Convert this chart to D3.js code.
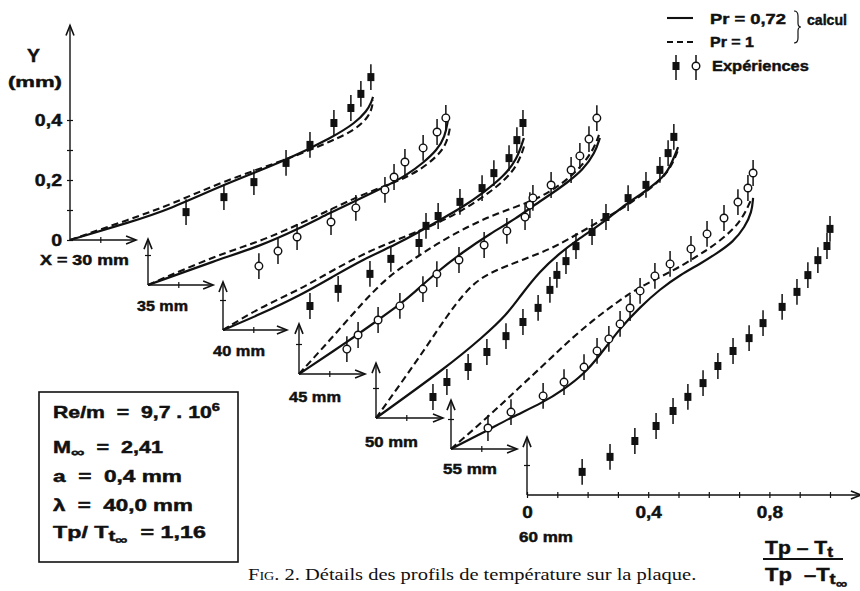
<!DOCTYPE html>
<html><head><meta charset="utf-8">
<script src="https://cdn.jsdelivr.net/npm/d3@7"></script>
<style>
body{margin:0;background:#fff}
svg{display:block}
text{font-family:"Liberation Sans",Arial,sans-serif;font-weight:bold;fill:#111}
.heavy{stroke:#111;stroke-width:0.45px}
</style>
</head><body>
<svg id="c" width="860" height="591"></svg>
<script>
// ---------------- DATA ----------------
const S = "\u00a0";
const stations = ["X"+S+"="+S+"30"+S+"mm","35"+S+"mm","40"+S+"mm","45"+S+"mm","50"+S+"mm","55"+S+"mm","60"+S+"mm"];
const markerKind = ["square","circle","square","circle","square","circle","square"];
// experimental points : [ (Tp-Tt)/(Tp-Tt∞) , Y (mm) ]
const exp30 = [[0.383,0.093],[0.508,0.143],[0.607,0.193],[0.713,0.257],[0.792,0.317],[0.871,0.39],[0.927,0.44],[0.96,0.487],[0.993,0.543]];
const exp35 = [[0.366,0.063],[0.429,0.113],[0.492,0.16],[0.604,0.21],[0.686,0.257],[0.782,0.317],[0.812,0.36],[0.848,0.41],[0.908,0.457],[0.954,0.51],[0.983,0.557]];
const exp40 = [[0.287,0.08],[0.38,0.137],[0.485,0.187],[0.554,0.237],[0.647,0.29],[0.67,0.347],[0.71,0.38],[0.782,0.427],[0.855,0.473],[0.894,0.523],[0.944,0.573],[0.97,0.633],[0.99,0.69]];
const exp45 = [[0.158,0.083],[0.195,0.13],[0.261,0.18],[0.333,0.227],[0.409,0.283],[0.455,0.333],[0.528,0.38],[0.611,0.43],[0.686,0.477],[0.746,0.523],[0.762,0.563],[0.772,0.587],[0.832,0.63],[0.898,0.68],[0.927,0.727],[0.957,0.783],[0.983,0.853]];
const exp50 = [[0.188,0.07],[0.234,0.12],[0.304,0.17],[0.366,0.22],[0.429,0.273],[0.485,0.32],[0.535,0.367],[0.574,0.427],[0.597,0.477],[0.627,0.523],[0.66,0.573],[0.713,0.62],[0.759,0.67],[0.832,0.733],[0.891,0.777],[0.937,0.827],[0.964,0.883],[0.983,0.937]];
const exp55 = [[0.122,0.07],[0.198,0.123],[0.304,0.177],[0.373,0.223],[0.439,0.273],[0.482,0.327],[0.521,0.367],[0.558,0.417],[0.591,0.47],[0.624,0.527],[0.673,0.577],[0.723,0.617],[0.792,0.667],[0.845,0.717],[0.901,0.77],[0.947,0.823],[0.98,0.87],[0.997,0.92]];
const exp60 = [[0.182,0.077],[0.274,0.127],[0.356,0.18],[0.426,0.23],[0.482,0.28],[0.531,0.327],[0.581,0.373],[0.63,0.43],[0.68,0.48],[0.733,0.523],[0.779,0.573],[0.842,0.627],[0.891,0.677],[0.927,0.733],[0.96,0.783],[0.99,0.83],[1.0,0.887]];
// calculated profiles, Pr = 0.72 (solid)
const calc072_30 = [[0,0],[0.2,0.06],[0.33,0.103],[0.508,0.185],[0.713,0.265],[0.871,0.345],[0.941,0.39],[0.98,0.43],[0.995,0.46],[1.0,0.477]];
const calc072_35 = [[0,0],[0.228,0.083],[0.37,0.13],[0.492,0.185],[0.6,0.24],[0.69,0.283],[0.782,0.327],[0.855,0.367],[0.908,0.407],[0.954,0.45],[0.98,0.493],[0.99,0.55]];
const calc072_40 = [[0,0],[0.122,0.052],[0.254,0.115],[0.363,0.178],[0.462,0.235],[0.574,0.287],[0.64,0.323],[0.716,0.367],[0.792,0.41],[0.858,0.457],[0.924,0.51],[0.97,0.567],[0.993,0.64]];
const calc072_45 = [[0,0],[0.168,0.113],[0.261,0.18],[0.333,0.232],[0.376,0.268],[0.455,0.34],[0.541,0.407],[0.63,0.467],[0.719,0.52],[0.772,0.56],[0.828,0.597],[0.884,0.637],[0.937,0.68],[0.977,0.737],[0.993,0.787]];
const calc072_50 = [[0,0],[0.234,0.17],[0.353,0.27],[0.432,0.345],[0.475,0.405],[0.541,0.49],[0.607,0.55],[0.663,0.593],[0.729,0.637],[0.772,0.67],[0.828,0.715],[0.881,0.75],[0.927,0.785],[0.96,0.817],[0.98,0.86],[0.997,0.903]];
const calc072_55 = [[0,0],[0.122,0.063],[0.198,0.105],[0.304,0.155],[0.37,0.197],[0.439,0.25],[0.492,0.313],[0.558,0.403],[0.624,0.473],[0.69,0.533],[0.756,0.58],[0.822,0.617],[0.878,0.653],[0.931,0.69],[0.97,0.74],[0.993,0.79],[0.997,0.837]];
// calculated profiles, Pr = 1 (dashed)
const calc1_30 = [[0,0],[0.2,0.07],[0.33,0.117],[0.508,0.197],[0.713,0.267],[0.871,0.333],[0.94,0.367],[0.983,0.407],[0.997,0.44],[1.0,0.467]];
const calc1_35 = [[0,0],[0.228,0.1],[0.37,0.145],[0.492,0.2],[0.6,0.25],[0.71,0.303],[0.822,0.345],[0.888,0.377],[0.954,0.427],[0.987,0.473],[0.997,0.527]];
const calc1_40 = [[0,0],[0.122,0.075],[0.254,0.135],[0.363,0.2],[0.495,0.27],[0.617,0.317],[0.716,0.36],[0.792,0.4],[0.858,0.443],[0.924,0.493],[0.974,0.55],[0.997,0.623]];
const calc1_45 = [[0,0],[0.102,0.113],[0.218,0.247],[0.30,0.33],[0.389,0.39],[0.465,0.44],[0.564,0.495],[0.653,0.535],[0.762,0.573],[0.828,0.607],[0.884,0.647],[0.937,0.697],[0.974,0.753],[0.99,0.797]];
const calc1_50 = [[0,0],[0.089,0.125],[0.168,0.24],[0.234,0.34],[0.287,0.41],[0.33,0.455],[0.38,0.485],[0.432,0.507],[0.508,0.537],[0.574,0.563],[0.63,0.593],[0.706,0.637],[0.762,0.67],[0.828,0.707],[0.881,0.747],[0.927,0.783],[0.97,0.827],[0.997,0.893]];
const calc1_55 = [[0,0],[0.12,0.105],[0.22,0.2],[0.327,0.3],[0.383,0.355],[0.469,0.43],[0.558,0.497],[0.624,0.54],[0.69,0.573],[0.766,0.613],[0.822,0.65],[0.855,0.67],[0.911,0.713],[0.954,0.757],[0.98,0.807],[0.993,0.837]];
// axis ticks
const mainYTicks = [0,0.1,0.2,0.3,0.4];
const mainYLabels = [0,0.2,0.4];
const mainXTicks = [0,0.1,0.2,0.3,0.4,0.5,0.6,0.7,0.8,0.9,1.0];
const mainXLabels = [0,0.4,0.8];
const boxLines = ["Re/m = 9,7 . 10^6","M∞ = 2,41","a = 0,4 mm","λ = 40,0 mm","Tp/Tt∞ = 1,16"];

const expData = [exp30,exp35,exp40,exp45,exp50,exp55,exp60];
const calcSolid = [calc072_30,calc072_35,calc072_40,calc072_45,calc072_50,calc072_55,null];
const calcDash = [calc1_30,calc1_35,calc1_40,calc1_45,calc1_50,calc1_55,null];

// ---------------- LAYOUT ----------------
const origins = [[70,240],[148,285],[223,330],[299,374],[376,418],[451,449],[527,495]];
const PX_T = 303, PX_MM = 300;
const vLen = [0.715,0.153,0.16,0.167,0.183,0.163,0.193];
const hLen = [0.218,0.215,0.211,0.218,0.221,0.218,1.102];
const labelPos = [[40,265,89],[137,311,51],[213,356,52],[289,402,52],[365,447,53],[443,474,54],[519,542,54]];

const svg = d3.select("#c");
const ink = "#111";
const fmt = d3.formatLocale({decimal:",",thousands:" ",grouping:[3],currency:["",""]}).format(".1f");

// stretch text horizontally to a target width (the original uses an extended bold face)
function fit(t,w){
  const x0=+t.attr("x")||0, y0=+t.attr("y")||0;
  t.attr("x",0).attr("y",0);
  const len=t.node().getComputedTextLength();
  t.attr("transform",`translate(${x0},${y0}) scale(${w/len},1)`);
  return t;
}
function arrowUp(g,x,y){g.append("path").attr("d",`M${x-4},${y+10}L${x},${y}L${x+4},${y+10}`).attr("fill","none").attr("stroke",ink).attr("stroke-width",1.6);}
function arrowRight(g,x,y){g.append("path").attr("d",`M${x-10},${y-4}L${x},${y}L${x-10},${y+4}`).attr("fill","none").attr("stroke",ink).attr("stroke-width",1.6);}

const line = d3.line().curve(d3.curveBasis);

origins.forEach((o,i)=>{
  const x = d3.scaleLinear().domain([0,1]).range([o[0],o[0]+PX_T]);
  const y = d3.scaleLinear().domain([0,1]).range([o[1],o[1]-PX_MM]);
  const g = svg.append("g");
  const yAx = d3.axisLeft(y).tickSize(3).tickPadding(5);
  const xAx = d3.axisBottom(x).tickSize(3).tickPadding(8);
  if(i===0){ yAx.tickValues(mainYTicks).tickFormat(d=>mainYLabels.includes(d)?(d===0?"0":fmt(d)):""); }
  else { yAx.tickValues([0.1]).tickFormat(""); }
  if(i===6){ xAx.tickValues(mainXTicks).tickFormat(d=>mainXLabels.includes(d)?(d===0?"0":fmt(d)):""); }
  else { xAx.tickValues([0.1]).tickFormat(""); }
  const gy = g.append("g").attr("transform",`translate(${o[0]},0)`).call(yAx);
  const gx = g.append("g").attr("transform",`translate(0,${o[1]})`).call(xAx);
  [gy,gx].forEach(a=>{a.select(".domain").remove(); a.selectAll("line").attr("stroke",ink).attr("stroke-width",1.2);
    a.selectAll("text").attr("font-size",17).attr("font-family","Liberation Sans, Arial, sans-serif").attr("font-weight","bold").attr("fill",ink).attr("class","heavy");});
  gy.selectAll(".tick line").attr("x1",3);
  gx.selectAll(".tick line").attr("y1",-3);
  gy.selectAll("text").attr("x",-8/1.15).attr("transform","scale(1.15,1)");
  gx.selectAll("text").attr("transform","scale(1.12,1)");
  g.append("line").attr("x1",x(0)).attr("x2",x(0)).attr("y1",y(0)).attr("y2",y(vLen[i])).attr("stroke",ink).attr("stroke-width",1.4);
  g.append("line").attr("x1",x(0)).attr("x2",x(hLen[i])).attr("y1",y(0)).attr("y2",y(0)).attr("stroke",ink).attr("stroke-width",1.4);
  arrowUp(g,x(0),y(vLen[i]));
  arrowRight(g,x(hLen[i]),y(0));
  const lp = labelPos[i];
  fit(g.append("text").attr("class","heavy").attr("x",lp[0]).attr("y",lp[1]).attr("font-size",14).text(stations[i]),lp[2]);
  if(calcDash[i]) g.append("path").attr("d",line(calcDash[i].map(d=>[x(d[0]),y(d[1])]))).attr("fill","none").attr("stroke",ink).attr("stroke-width",2.1).attr("stroke-dasharray","7,4");
  if(calcSolid[i]) g.append("path").attr("d",line(calcSolid[i].map(d=>[x(d[0]),y(d[1])]))).attr("fill","none").attr("stroke",ink).attr("stroke-width",2.2);
  const pts = g.selectAll(".pt").data(expData[i]).enter().append("g");
  pts.append("line").attr("x1",d=>x(d[0])).attr("x2",d=>x(d[0])).attr("y1",d=>y(d[1]+0.043)).attr("y2",d=>y(d[1]-0.043)).attr("stroke",ink).attr("stroke-width",1.5);
  if(markerKind[i]==="square"){
    pts.append("rect").attr("x",d=>x(d[0])-3.5).attr("y",d=>y(d[1])-4).attr("width",7).attr("height",8).attr("fill",ink);
  } else {
    pts.append("circle").attr("cx",d=>x(d[0])).attr("cy",d=>y(d[1])).attr("r",3.8).attr("fill","#fff").attr("stroke",ink).attr("stroke-width",1.4);
  }
});

// Y axis title
fit(svg.append("text").attr("class","heavy").attr("x",27).attr("y",62).attr("font-size",19).text("Y"),13);
fit(svg.append("text").attr("class","heavy").attr("x",8).attr("y",87).attr("font-size",15).text("(mm)"),54);

// X axis title (fraction)
const num = svg.append("text").attr("class","heavy").attr("x",765).attr("y",554).attr("font-size",18);
num.append("tspan").text("Tp"+S+"–"+S+"T"); num.append("tspan").attr("dy",3).attr("font-size",15).text("t");
fit(num,68);
svg.append("line").attr("x1",763).attr("x2",843).attr("y1",559).attr("y2",559).attr("stroke",ink).attr("stroke-width",2);
const den = svg.append("text").attr("class","heavy").attr("x",765).attr("y",581).attr("font-size",18);
den.append("tspan").text("Tp"+S+S+"–T"); den.append("tspan").attr("dy",3).attr("font-size",15).text("t");
den.append("tspan").attr("dy",4).attr("font-size",13).text("∞");
fit(den,82);

// parameter box
svg.append("rect").attr("x",39).attr("y",392).attr("width",199).attr("height",170).attr("fill","none").attr("stroke",ink).attr("stroke-width",1.6);
const boxBase = [418,453,482,511,538];
const boxW = [167,110,129,140,153];
const E = S+"="+S;
boxLines.forEach((s,k)=>{
  const t = svg.append("text").attr("class","heavy").attr("x",53).attr("y",boxBase[k]).attr("font-size",16);
  if(k===0){ t.append("tspan").text("Re/m"+S+E+S+"9,7"+S+"."+S+"10"); t.append("tspan").attr("dy",-7).attr("font-size",11).text("6"); }
  else if(k===1){ t.append("tspan").text("M"); t.append("tspan").attr("dy",4).attr("font-size",14).text("∞"); t.append("tspan").attr("dy",-4).text(S+E+S+"2,41"); }
  else if(k===2){ t.text("a"+S+E+S+"0,4"+S+"mm"); }
  else if(k===3){ t.text("λ"+S+E+S+"40,0"+S+"mm"); }
  else { t.append("tspan").text("Tp/"+S+"T"); t.append("tspan").attr("dy",3).attr("font-size",14).text("t"); t.append("tspan").attr("dy",3).attr("font-size",12).text("∞"); t.append("tspan").attr("dy",-6).text(S+S+"="+S+"1,16"); }
  fit(t,boxW[k]);
});

// legend
svg.append("line").attr("x1",667).attr("x2",693).attr("y1",18).attr("y2",18).attr("stroke",ink).attr("stroke-width",2.1);
svg.append("line").attr("x1",667).attr("x2",693).attr("y1",42).attr("y2",42).attr("stroke",ink).attr("stroke-width",2.1).attr("stroke-dasharray","6,4");
fit(svg.append("text").attr("class","heavy").attr("x",710).attr("y",24).attr("font-size",15).text("Pr"+E+"0,72"),76);
fit(svg.append("text").attr("class","heavy").attr("x",710).attr("y",47).attr("font-size",15).text("Pr"+E+"1"),44);
svg.append("path").attr("d","M794,11 q4,0 4,5 v7 q0,4 3,4 q-3,0 -3,4 v7 q0,5 -4,5").attr("fill","none").attr("stroke",ink).attr("stroke-width",1.2);
fit(svg.append("text").attr("class","heavy").attr("x",807).attr("y",25).attr("font-size",15).text("calcul"),40);
svg.append("line").attr("x1",676).attr("x2",676).attr("y1",55).attr("y2",80).attr("stroke",ink).attr("stroke-width",1.5);
svg.append("rect").attr("x",672.5).attr("y",62).attr("width",7).attr("height",8).attr("fill",ink);
svg.append("line").attr("x1",696).attr("x2",696).attr("y1",55).attr("y2",80).attr("stroke",ink).attr("stroke-width",1.5);
svg.append("circle").attr("cx",696).attr("cy",66).attr("r",3.8).attr("fill","#fff").attr("stroke",ink).attr("stroke-width",1.4);
fit(svg.append("text").attr("class","heavy").attr("x",712).attr("y",71).attr("font-size",15).text("Expériences"),97);

// caption
const cap = svg.append("text").attr("x",248).attr("y",580).attr("font-size",17)
  .style("font-family","'Liberation Serif','Times New Roman',serif").style("font-weight","normal");
cap.append("tspan").style("font-variant","small-caps").text("Fig. 2.");
cap.append("tspan").text(S+"Détails des profils de température sur la plaque.");
fit(cap,449);
</script>
</body></html>
